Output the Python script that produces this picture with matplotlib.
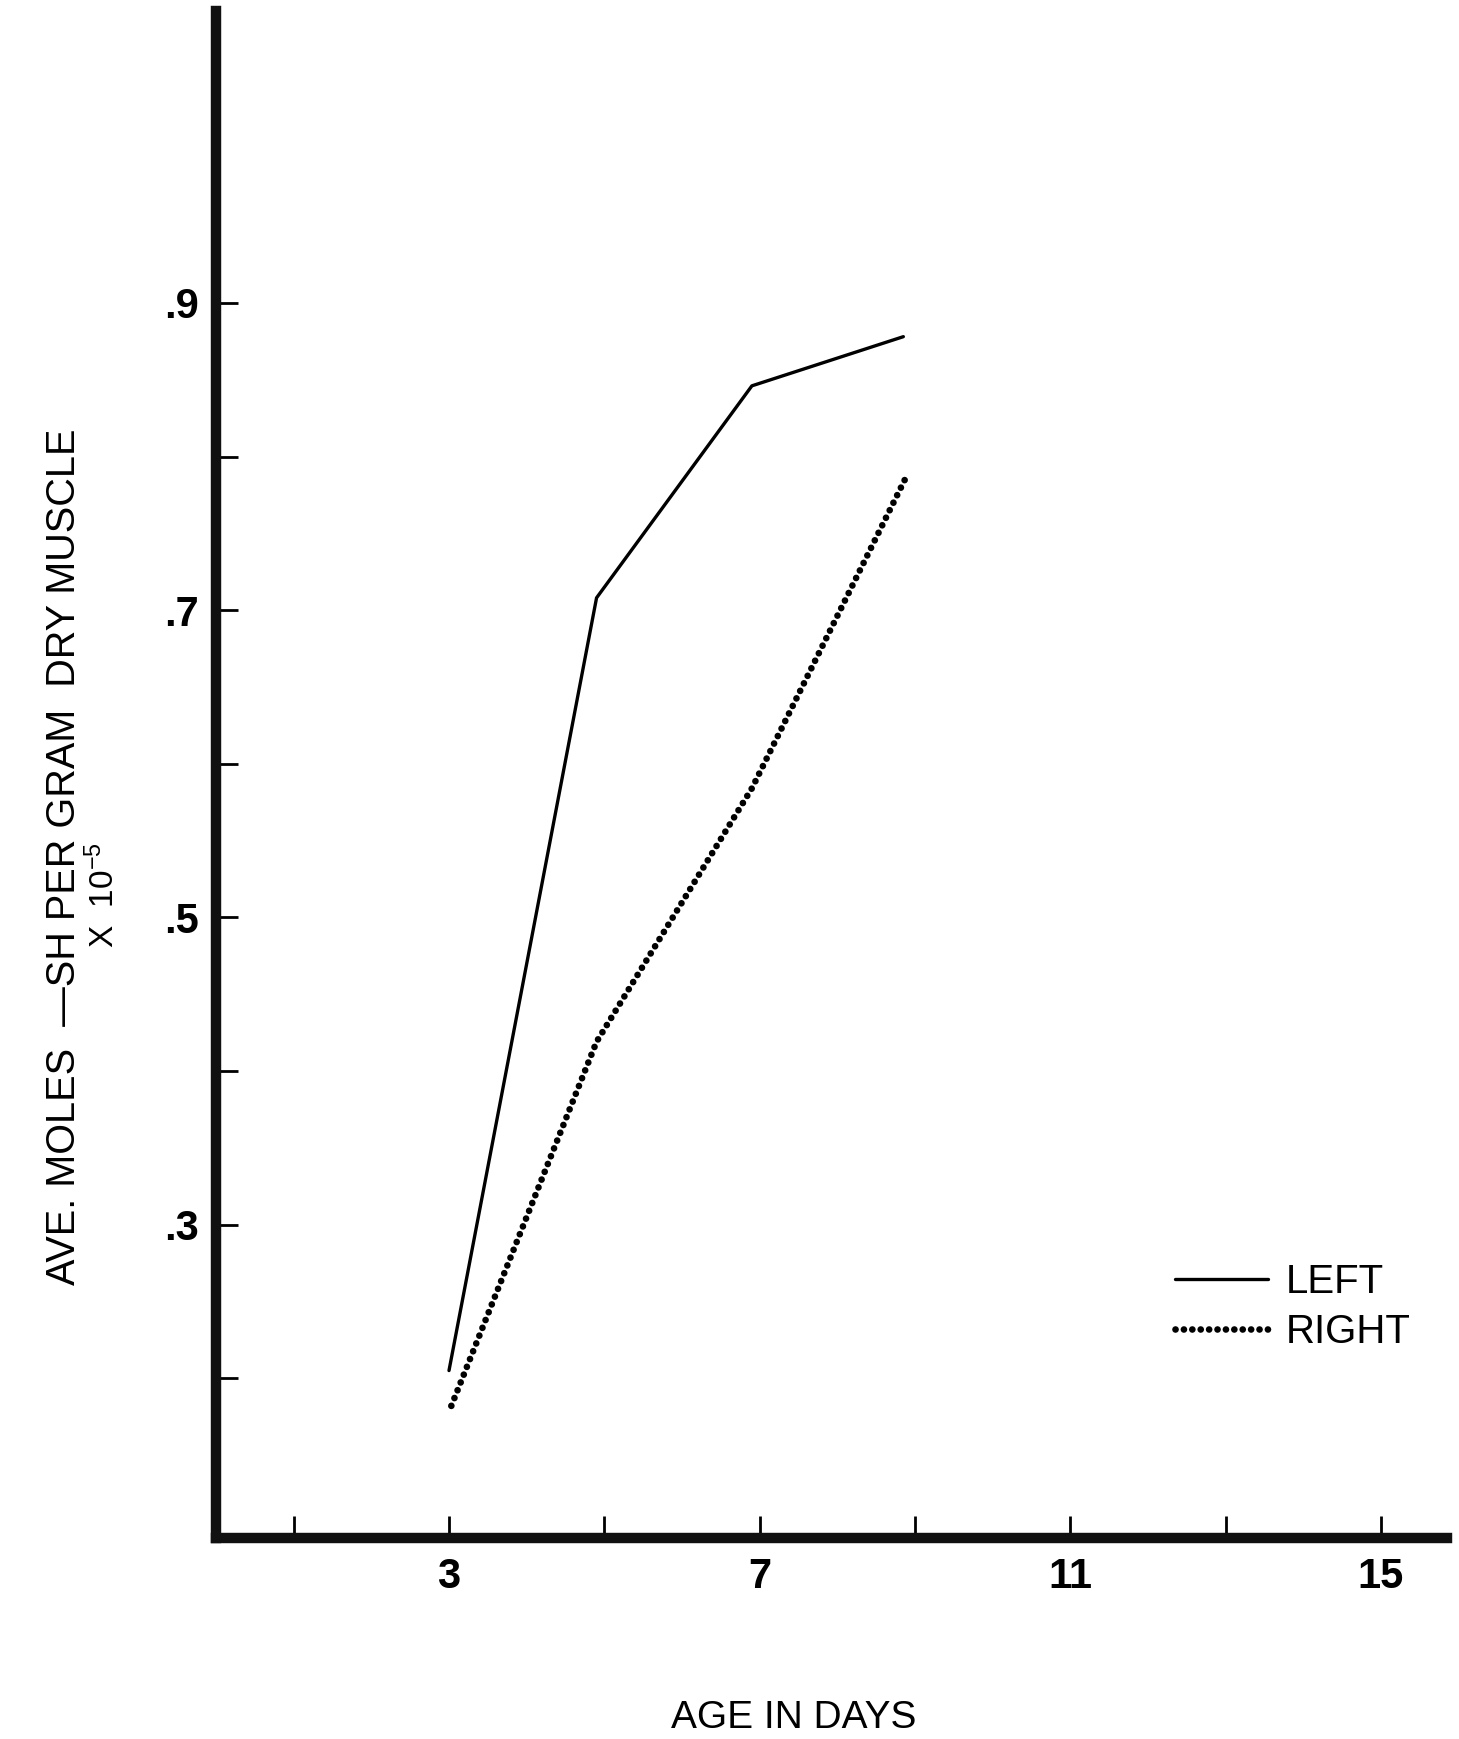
import numpy as np
import matplotlib
matplotlib.use("Agg")
import matplotlib.pyplot as plt
from matplotlib.ticker import FixedLocator

plt.rcParams['mathtext.default'] = 'regular'

# data
days_left = [3, 4.9, 6.9, 8.85]
left = [0.205, 0.708, 0.846, 0.878]
days_right = [3.03, 4.9, 6.9, 8.88]
right = [0.182, 0.419, 0.584, 0.786]

xticks = [1, 3, 5, 7, 9, 11, 13, 15]
xlabels = ['', '3', '', '7', '', '11', '', '15']
yticks = [0.2, 0.3, 0.4, 0.5, 0.6, 0.7, 0.8, 0.9]
ylabels = ['', '.3', '', '.5', '', '.7', '', '.9']

sans = ['Liberation Sans', 'DejaVu Sans']

W, H = 1459, 1739
fig = plt.figure(figsize=(W / 100, H / 100), dpi=100)
ax = fig.add_axes([216 / W, 1 - 1538 / H, (1447 - 216) / W, (1538 - 11) / H])

ax.plot(days_left, left, color='black', lw=2.4, solid_capstyle='round',
        label='LEFT')
ax.plot(days_right, right, color='black', lw=4.8, linestyle=(0, (0.01, 1.25)),
        dash_capstyle='round', label='RIGHT')

ax.set_xlim(0, 15.85)
ax.set_ylim(0.096, 1.09)

for s in ['top', 'right']:
    ax.spines[s].set_visible(False)
for s in ['left', 'bottom']:
    ax.spines[s].set_linewidth(7.5)
    ax.spines[s].set_color('#111111')

ax.xaxis.set_major_locator(FixedLocator(xticks))
ax.set_xticklabels(xlabels)
ax.yaxis.set_major_locator(FixedLocator(yticks))
ax.set_yticklabels(ylabels)
ax.tick_params(axis='both', direction='in', length=16, width=2, color='black')
ax.tick_params(axis='x', pad=14)
ax.tick_params(axis='y', pad=12)
for lab in ax.get_xticklabels() + ax.get_yticklabels():
    lab.set_family(sans)
    lab.set_fontweight('bold')
    lab.set_fontsize(30)

fig.text(64 / W, 1 - 857 / H, 'AVE. MOLES  \u2014SH PER GRAM  DRY MUSCLE',
         rotation=90, ha='center', va='center', fontsize=28.5, family=sans)
fig.text(104 / W, 1 - 895 / H, 'X  10$^{-5}$', rotation=90, ha='center',
         va='center', fontsize=24, family=sans)
fig.text(794 / W, 1 - 1718 / H, 'AGE IN DAYS', ha='center', va='center',
         fontsize=28, family=sans)

leg = ax.legend(loc='upper left', bbox_to_anchor=(1155 / W, 1 - 1243 / H),
                bbox_transform=fig.transFigure, frameon=False, borderpad=0,
                handlelength=2.3, handletextpad=0.45, labelspacing=0.3,
                prop={'family': sans, 'size': 29})

fig.savefig('out.png', dpi=100)
